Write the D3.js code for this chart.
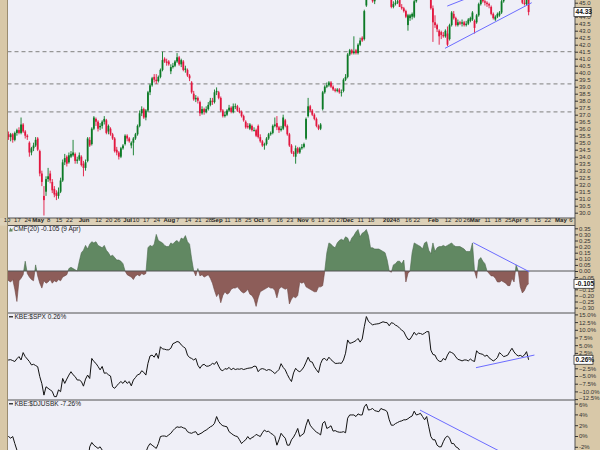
<!DOCTYPE html>
<html><head><meta charset="utf-8">
<script src="https://cdn.jsdelivr.net/npm/d3@7"></script>
<style>
body{margin:0;background:#d8c8a8;}
svg{display:block;}
text{font-family:"Liberation Sans",Arial,sans-serif;}
</style>
</head><body>
<script>
// ---------- DATA (trading-day index 0 = 10 Apr 2023 ... 251 = 9 Apr 2024) ----------
const opens=[35.5,35.6,35.4,35.6,35.2,35.7,35.9,35.7,36.3,35.8,
35.5,35.0,34.3,34.6,34.8,35.3,34.4,32.8,31.2,31.5,
32.4,32.8,32.2,31.7,31.4,31.2,31.5,32.3,33.6,34.0,
33.6,34.0,34.1,34.2,33.7,33.8,34.0,33.5,33.2,33.7,
35.2,34.9,36.0,36.7,36.5,36.1,36.2,36.5,36.6,35.8,
36.0,35.6,35.3,34.5,34.3,34.0,34.6,34.9,35.5,35.3,
34.8,35.0,35.3,35.6,36.2,37.1,37.4,36.8,37.3,38.6,
39.1,39.7,39.5,39.4,39.7,40.2,41.0,40.8,40.8,40.1,
40.4,40.5,40.8,41.1,40.6,40.8,40.2,40.2,39.8,39.3,
38.5,38.1,38.2,37.9,37.1,37.4,37.2,37.4,37.7,38.0,
37.9,38.6,38.6,38.2,37.3,36.9,37.0,37.3,37.5,37.2,
37.6,37.6,37.3,37.2,36.9,36.5,36.2,36.0,36.2,35.9,
35.9,36.2,35.4,35.1,34.8,34.9,35.3,35.6,35.7,36.2,
36.4,36.1,35.9,36.0,36.6,36.2,35.6,34.8,34.3,34.0,
34.6,34.3,34.6,34.7,35.3,36.9,37.6,37.3,37.0,36.7,
36.2,36.0,37.4,38.6,39.0,39.1,39.3,39.0,38.8,38.7,
38.8,38.6,38.7,39.5,39.7,41.3,41.6,41.4,41.6,41.4,
42.0,42.5,42.4,44.8,45.6,46.2,45.8,45.1,45.3,45.8,
46.3,46.5,46.0,45.9,45.6,45.3,44.7,44.9,45.0,45.3,
44.7,44.6,44.4,43.4,43.9,44.0,44.0,45.1,45.4,45.8,
46.0,45.8,46.2,46.0,45.4,44.6,43.6,43.4,43.0,42.9,
42.7,42.6,42.8,42.4,43.4,44.2,43.9,43.4,43.6,43.5,
43.6,43.4,43.5,43.7,43.8,43.7,43.6,44.1,44.9,45.2,
45.1,45.0,44.9,44.7,44.2,43.8,44.0,44.1,44.3,45.1,
45.6,45.9,46.1,46.4,46.2,46.6,46.3,45.9,45.6,45.0,
44.9,45.4];
const highs=[35.8,35.8,35.7,35.7,35.8,36.0,36.1,36.8,36.4,35.9,
35.6,35.1,34.7,35.0,35.4,35.4,34.5,33.0,31.9,32.6,
33.2,33.0,32.4,31.9,31.6,31.8,32.5,33.8,34.2,34.1,
34.3,34.4,35.2,34.3,34.0,34.3,34.1,33.7,33.8,35.4,
35.4,36.1,36.9,36.8,36.6,36.4,36.6,36.9,36.7,36.3,
36.1,35.7,35.4,34.7,34.4,34.7,34.9,35.6,35.6,35.4,
35.1,35.4,35.7,36.3,37.3,37.6,37.5,37.4,38.7,39.2,
39.7,39.9,39.9,39.8,40.3,41.5,41.1,41.0,40.9,40.6,
40.7,40.9,41.4,41.2,41.0,40.9,40.5,40.3,39.9,39.4,
38.7,38.4,38.3,38.0,37.6,37.5,37.6,37.9,38.2,38.2,
38.8,38.95,38.7,38.3,37.4,37.2,37.4,37.7,37.6,37.8,
37.8,37.7,37.5,37.3,37.0,36.6,36.4,36.4,36.3,36.1,
36.0,36.3,35.6,35.2,35.0,35.4,35.7,35.8,36.3,36.8,
36.9,36.2,36.2,37.0,36.7,36.3,35.7,34.9,34.4,34.8,
34.7,34.7,34.9,35.0,36.8,38.2,37.7,37.4,37.1,36.8,
36.3,36.4,38.7,39.1,39.3,39.4,39.4,39.1,38.9,38.9,
38.9,38.8,39.6,39.9,41.4,41.7,41.7,42.6,41.7,42.1,
42.5,42.6,44.5,45.9,46.4,46.4,45.9,45.5,46.0,46.5,
46.7,46.6,46.2,46.0,45.8,45.4,45.1,45.3,45.4,45.4,
44.9,44.7,44.5,44.2,44.2,44.3,45.3,45.6,46.0,46.2,
46.1,46.4,46.3,46.1,45.5,44.8,44.1,43.5,43.1,43.0,
42.9,43.1,43.3,43.5,44.4,44.4,44.0,43.8,43.7,43.8,
43.7,43.7,43.9,44.0,44.4,43.8,44.2,45.0,45.4,45.3,
45.2,45.1,45.0,44.8,44.3,44.1,44.3,44.4,45.2,45.8,
46.0,46.2,46.6,46.5,46.8,46.7,46.4,46.0,45.7,45.3,
45.4,45.5];
const lows=[35.2,35.2,35.1,35.0,35.1,35.5,35.6,35.6,35.7,35.3,
35.2,34.0,34.1,34.4,34.7,34.4,32.6,31.9,29.8,31.2,
32.2,32.1,31.4,31.1,30.9,31.0,31.4,32.2,33.4,33.3,
33.5,33.9,34.0,33.5,33.5,33.7,33.3,32.6,33.0,33.6,
34.7,34.8,35.9,36.2,35.8,35.9,36.0,36.3,35.6,35.6,
35.5,35.2,34.3,34.1,33.8,33.9,34.5,34.8,35.1,35.0,
34.6,34.1,35.2,35.5,36.1,36.9,36.7,36.6,37.2,38.4,
39.0,39.3,39.2,39.3,39.6,40.1,40.7,40.5,40.5,39.9,
40.3,40.4,40.7,40.5,40.4,40.1,40.0,39.7,39.4,38.5,
38.0,37.9,37.8,36.9,37.0,37.0,37.1,37.3,37.6,37.7,
37.8,38.4,38.1,37.2,36.8,36.8,36.9,37.2,37.1,37.1,
37.4,37.2,37.1,36.8,36.5,36.0,36.0,35.9,35.8,35.8,
35.4,35.3,35.0,34.7,34.5,34.8,35.2,35.5,35.6,36.1,
35.9,35.7,35.8,35.9,36.1,35.5,34.7,34.2,34.0,33.5,
34.2,34.2,34.5,34.6,35.2,36.8,37.2,36.9,36.6,36.1,
35.9,35.9,37.3,38.5,38.9,39.0,38.9,38.7,38.6,38.6,
38.5,38.3,38.6,39.4,39.6,41.2,41.3,41.3,41.3,41.3,
41.9,42.2,42.3,44.7,45.5,45.8,45.0,44.9,45.2,45.7,
46.2,45.9,45.8,45.5,45.3,44.6,44.6,44.8,44.9,44.7,
44.5,44.3,43.9,43.0,43.7,43.8,43.9,45.0,45.3,45.6,
45.6,45.7,45.8,45.4,44.5,42.2,43.2,42.9,42.0,42.4,
42.5,42.5,41.9,42.3,43.3,43.8,43.3,43.3,43.4,43.3,
43.3,43.3,43.4,43.6,43.7,42.8,43.5,44.0,44.8,45.0,
44.8,44.7,44.6,44.1,43.8,43.7,43.9,44.0,44.2,45.0,
45.5,45.8,46.0,46.0,46.1,46.1,45.7,45.5,44.9,44.8,
44.8,44.1];
const closes=[35.6,35.4,35.6,35.2,35.7,35.9,35.7,36.3,35.8,35.5,
35.4,34.3,34.6,34.8,35.2,34.5,32.8,32.2,30.9,32.4,
32.6,32.3,31.6,31.3,31.2,31.5,32.3,33.6,33.9,33.5,
34.1,34.2,34.3,33.7,33.8,34.1,33.4,33.2,33.6,35.3,
34.8,36.0,36.8,36.5,36.0,36.2,36.5,36.7,35.7,36.2,
35.6,35.3,34.4,34.3,34.0,34.6,34.8,35.5,35.3,35.1,
35.0,35.3,35.6,36.2,37.1,37.4,36.8,37.3,38.6,39.1,
39.6,39.5,39.4,39.7,40.2,40.9,40.8,40.7,40.6,40.4,
40.5,40.8,41.1,40.6,40.9,40.2,40.3,39.8,39.6,38.6,
38.1,38.2,38.0,37.1,37.4,37.2,37.4,37.7,38.0,37.9,
38.6,38.7,38.2,37.3,36.9,37.0,37.3,37.5,37.2,37.6,
37.6,37.3,37.2,36.9,36.6,36.1,36.1,36.3,35.9,35.9,
35.5,35.4,35.1,34.8,34.9,35.3,35.6,35.7,36.2,36.3,
36.1,35.9,36.0,36.8,36.2,35.6,34.8,34.3,34.2,34.6,
34.3,34.6,34.7,34.9,36.7,37.6,37.3,37.0,36.7,36.2,
36.0,36.3,38.6,39.0,39.1,39.3,39.0,38.8,38.7,38.8,
38.6,38.6,39.5,39.7,41.3,41.6,41.4,41.5,41.4,42.0,
42.3,42.3,44.4,45.6,46.2,46.0,45.1,45.3,45.8,46.3,
46.5,46.0,45.9,45.6,45.4,44.7,44.9,45.0,45.1,44.7,
44.6,44.4,44.0,44.1,44.1,44.2,45.1,45.4,45.8,46.0,
45.8,46.2,46.0,45.7,44.6,43.6,43.4,43.1,42.6,42.7,
42.6,43.0,42.0,43.4,44.3,43.9,43.4,43.6,43.5,43.6,
43.4,43.5,43.8,43.9,44.3,43.2,44.1,44.9,45.2,45.1,
45.0,44.9,44.8,44.2,43.9,44.0,44.2,44.3,45.1,45.6,
45.9,46.1,46.4,46.2,46.6,46.3,45.9,45.6,45.0,44.9,
45.3,44.33];
const cmf=[-0.06,-0.08,-0.09,-0.07,-0.15,-0.25,-0.08,-0.06,-0.03,0.08,
-0.02,-0.05,-0.07,-0.08,0.05,-0.04,-0.10,-0.14,-0.08,-0.10,
-0.09,-0.07,-0.10,-0.08,-0.09,-0.07,-0.08,-0.05,-0.04,-0.03,
0.02,0.03,0.02,0.01,0.00,0.08,0.15,0.17,0.21,0.18,
0.22,0.24,0.23,0.24,0.21,0.20,0.19,0.21,0.17,0.15,
0.12,0.13,0.11,0.09,0.09,0.08,0.06,0.00,-0.03,-0.04,
-0.05,-0.07,-0.04,-0.03,-0.04,-0.02,-0.03,-0.02,0.19,0.21,
0.20,0.22,0.30,0.25,0.24,0.23,0.21,0.20,0.20,0.23,
0.22,0.24,0.25,0.23,0.27,0.26,0.29,0.24,0.22,0.10,
0.00,-0.04,0.02,-0.04,-0.03,-0.05,-0.04,-0.03,-0.06,-0.10,
-0.16,-0.21,-0.18,-0.26,-0.20,-0.17,-0.19,-0.18,-0.15,-0.14,
-0.14,-0.13,-0.15,-0.17,-0.18,-0.17,-0.15,-0.19,-0.20,-0.23,
-0.29,-0.22,-0.17,-0.16,-0.15,-0.14,-0.13,-0.14,-0.14,-0.16,
-0.22,-0.15,-0.13,-0.14,-0.15,-0.14,-0.27,-0.23,-0.21,-0.22,
-0.20,-0.09,-0.10,-0.09,-0.13,-0.14,-0.15,-0.16,-0.17,-0.17,
-0.13,-0.13,-0.12,0.00,0.15,0.23,0.22,0.20,0.19,0.23,
0.25,0.26,0.25,0.28,0.27,0.23,0.27,0.29,0.32,0.34,
0.28,0.31,0.32,0.34,0.29,0.19,0.19,0.18,0.18,0.18,
0.17,0.16,0.15,0.09,0.00,-0.01,0.05,0.06,0.08,0.08,
0.06,0.09,-0.09,-0.02,0.00,0.15,0.23,0.22,0.21,0.20,
0.18,0.23,0.24,0.17,0.14,0.23,0.16,0.19,0.20,0.20,
0.21,0.20,0.21,0.22,0.23,0.21,0.20,0.20,0.20,0.19,
0.18,0.16,0.16,0.16,0.23,0.00,-0.06,0.09,0.11,0.08,
0.06,0.00,-0.02,-0.04,-0.04,-0.06,-0.09,-0.09,-0.08,-0.09,
-0.10,-0.12,-0.12,-0.06,-0.09,0.05,0.00,-0.13,-0.18,-0.16,
-0.12,-0.105];
const relSpx=[0.2,0.2,0.3,0.0,-0.3,0.6,1.3,0.2,2.6,1.3,
0.5,-0.3,-1.4,-1.2,-1.6,-2.0,-5.2,-7.5,-11.2,-8.5,
-9.0,-9.5,-10.0,-11.7,-11.7,-9.5,-10.1,-5.8,-7.4,-6.0,
-4.7,-3.6,-4.6,-5.2,-6.3,-6.3,-6.8,-8.3,-6.0,-4.7,
-5.8,0.7,-0.3,-0.9,-1.9,-3.0,-1.9,-4.1,-4.0,-4.6,
-5.0,-8.5,-9.0,-8.2,-7.4,-6.8,-7.4,-6.5,-7.4,-6.8,
-8.2,-6.3,-5.5,-4.6,-4.4,-3.3,-3.8,-4.7,-0.9,1.5,
1.8,1.1,2.4,0.7,4.5,3.8,3.7,3.5,3.5,4.0,
5.5,5.8,6.2,6.0,5.1,4.5,4.0,1.8,1.0,0.7,
0.2,0.7,-1.5,-2.5,-1.5,-1.2,-1.8,-1.8,-1.5,-0.9,
-1.2,-0.3,-1.8,-3.0,-3.3,-2.6,-2.8,-2.2,-3.0,-2.5,
-2.9,-2.7,-2.8,-2.6,-2.9,-2.7,-2.5,-2.4,-2.3,-1.8,
-1.9,-3.6,-2.8,-2.6,-2.8,-3.2,-2.9,-3.1,-3.6,-4.2,
-3.6,-2.9,-1.0,-2.2,-3.0,-4.5,-5.8,-6.8,-4.0,-2.5,
-3.3,-3.6,-3.0,-2.0,-0.5,1.1,-0.3,-0.5,-2.0,-3.0,
-3.9,-1.0,0.5,0.7,0.0,1.1,0.3,-0.3,-0.9,-0.9,
-0.8,-0.9,0.2,2.4,6.7,5.6,5.8,6.1,6.5,7.2,
6.0,7.0,11.0,14.3,12.8,12.1,11.6,11.8,11.9,12.0,
12.3,12.6,12.4,12.3,11.3,12.3,12.1,11.5,11.2,10.5,
9.9,9.4,8.0,6.9,6.9,8.0,9.2,8.3,8.9,8.8,
8.5,8.9,9.4,9.4,3.4,2.0,1.8,0.4,-0.2,-0.3,
0.7,0.2,1.8,2.9,2.6,2.2,1.2,0.4,0.2,-0.1,
0.2,0.2,-0.1,0.5,0.0,-0.3,3.2,2.4,2.2,2.0,
1.4,1.8,0.9,0.4,-0.1,0.3,1.0,2.6,2.0,1.3,
1.5,1.8,3.0,4.0,2.8,2.0,1.5,1.7,1.3,1.8,
2.9,0.26];
const relBank=[-0.1,-0.1,-0.4,-0.1,-1.4,-2.6,-3.4,-3.2,-2.9,-3.5,
-4.0,-4.5,-5.5,-5.2,-5.6,-6.0,-8.5,-10.0,-13.0,-11.0,
-11.5,-12.0,-12.5,-13.5,-13.5,-11.5,-12.0,-8.5,-9.5,-8.5,
-7.5,-6.5,-7.0,-7.5,-8.0,-8.0,-8.5,-9.5,-7.5,-5.0,
-2.0,-1.2,-1.7,-2.0,-2.3,-2.0,-2.6,-3.5,-3.8,-4.2,
-4.5,-6.5,-7.0,-6.5,-6.0,-5.5,-6.0,-5.5,-6.0,-5.5,
-6.5,-5.0,-4.5,-4.0,-3.8,-3.2,-3.5,-3.0,-2.0,-1.4,
-1.7,-2.0,-2.3,-1.4,-0.1,0.0,0.0,-0.1,0.2,0.5,
1.0,1.4,1.7,1.6,1.7,1.5,1.4,0.8,0.6,0.5,
0.7,0.8,0.2,0.4,0.6,0.9,1.1,1.4,1.7,1.9,
2.35,3.6,2.7,2.2,1.9,1.8,1.7,0.8,0.5,0.2,
0.0,-0.1,-0.7,-1.4,-1.0,-0.7,-0.1,-0.6,-0.3,-0.1,
0.3,0.1,-0.1,0.6,1.1,0.8,0.9,0.5,0.3,-0.1,
-1.7,-0.7,0.5,0.0,-0.4,-1.7,-1.7,-0.7,-0.2,0.5,
1.4,-0.1,0.2,0.5,2.0,3.1,2.0,1.5,1.1,0.7,
0.5,0.2,2.35,2.7,1.4,1.6,1.9,0.9,1.0,0.8,
0.7,0.7,0.8,0.6,3.3,3.9,3.9,3.9,3.6,4.1,
3.9,3.9,5.4,5.9,4.8,4.9,5.1,4.7,4.6,4.5,
5.1,4.9,4.8,4.5,3.0,2.0,2.0,2.3,2.5,2.7,
2.8,3.0,3.0,3.2,3.5,3.7,4.6,3.9,4.0,4.2,
3.6,3.0,3.6,1.7,-0.1,-0.7,-0.7,-1.7,-2.0,-2.0,
-1.05,-0.3,0.0,-0.4,-1.4,-1.4,-2.0,-2.2,-2.7,-3.0,
-3.2,-3.0,-3.4,-3.2,-3.5,-4.0,-2.9,-3.2,-3.6,-3.8,
-4.2,-4.0,-4.5,-5.0,-5.4,-5.2,-4.8,-4.0,-4.5,-5.0,
-5.2,-5.0,-4.5,-4.0,-4.8,-5.5,-6.0,-5.8,-6.2,-6.0,
-5.4,-7.26];

// horizontal dashed support levels
const priceLevels=[41.5,39.2,37.2];
// trend lines: [startIndex, endIndex] and [startValue, endValue]
const trendPriceLowIdx=[210.8,252.5], trendPriceLowVal=[41.74,45.0];
const trendPriceHighIdx=[211.9,222], trendPriceHighVal=[44.76,45.35];
const trendCmfIdx=[224.4,251.3], trendCmfVal=[0.232,-0.006];
const trendSpxIdx=[225.7,253.8], trendSpxVal=[-2.3,1.8];
const trendBankIdx=[198.8,240], trendBankVal=[4.8,-3.4];

// date axis
const dateTickIdx=[0,5,10,15,20,25,30,37,44,49,53,58,62,67,72,78,82,87,92,97,101,106,111,116,121,126,131,136,143,146,151,156,160,164,170,175,184,188,193,197,205,212,217,221,225,231,236,241,245,250,255,260,267,270];
const dateTickLbl=["10","17","24","May","8","15","22","Jun","12","20","26","Jul","10","17","24","Aug","7","14","21","28","Sep","11","18","25","Oct","9","16","23","Nov","6","13","20","27","Dec","11","18","2024","8","16","22","Feb","12","20","26","Mar","11","18","25","Apr","8","15","22","May","6"];
const boldLbl=["May","Jun","Jul","Aug","Sep","Oct","Nov","Dec","2024","Feb","Mar","Apr"];

// value-axis ticks
const priceTicks=[45.0,44.0,43.5,43.0,42.5,42.0,41.5,41.0,40.5,40.0,39.5,39.0,38.5,38.0,37.5,37.0,36.5,36.0,35.5,35.0,34.5,34.0,33.5,33.0,32.5,32.0,31.5,31.0,30.5,30.0];
const cmfTicks=[0.35,0.30,0.25,0.20,0.15,0.10,0.05,0.00,-0.05,-0.15,-0.20,-0.25,-0.30];
const spxTicks=[15,12.5,10,7.5,5,2.5,-2.5,-5,-7.5,-10,-12.5];
const bankTicks=[6,4,2,0,-2];

const lastPriceLbl="44.33", lastCmfLbl="-0.105", lastSpxLbl="0.26%";
const cmfTitle="CMF(20) -0.105 (9 Apr)";
const spxTitle="KBE:$SPX 0.26%";
const bankTitle="KBE:$DJUSBK -7.26%";

// ---------- LAYOUT ----------
const W=600,H=450, PL=7.5, PR=575;
const TAN="#d8c8a8", BG="#efeff7", GRID="#505050";
const GREEN="#0c7a26", RED="#e2173f", BLUE="#6b6bff";
const P={main:[0,218], cmf:[225.5,313], spx:[313,400], bank:[400,452]};

const svg=d3.select("body").append("svg").attr("width",W).attr("height",H);
svg.append("rect").attr("width",W).attr("height",H).attr("fill",TAN);

const x=d3.scaleLinear().domain([-3.125,273.3]).range([0,575]);
const yP=d3.scaleLinear().domain([30,45]).range([212.7,2.7]);
const yC=d3.scaleLinear().domain([-0.3,0.35]).range([307.6,228.3]);
const yS=d3.scaleLinear().domain([-12.5,15]).range([399.1,314.4]);
const yB=d3.scaleLinear().domain([-2,6]).range([446.8,403.6]);

const defs=svg.append("defs");
Object.entries(P).forEach(([k,[t,b]])=>{
  defs.append("clipPath").attr("id","c_"+k).append("rect")
    .attr("x",PL).attr("y",t).attr("width",PR-PL).attr("height",b-t);
  svg.append("rect").attr("x",PL).attr("y",t).attr("width",PR-PL).attr("height",b-t).attr("fill",BG);
});
defs.append("clipPath").attr("id","c_pos").append("rect").attr("x",PL).attr("y",P.cmf[0]).attr("width",PR-PL).attr("height",yC(0)-P.cmf[0]);
defs.append("clipPath").attr("id","c_neg").append("rect").attr("x",PL).attr("y",yC(0)).attr("width",PR-PL).attr("height",P.cmf[1]-yC(0));

// ---------- MAIN PRICE PANEL ----------
const gm=svg.append("g").attr("clip-path","url(#c_main)");
gm.selectAll("line.lvl").data(priceLevels).enter().append("line")
  .attr("x1",PL).attr("x2",PR).attr("y1",d=>yP(d)).attr("y2",d=>yP(d))
  .attr("stroke","#969696").attr("stroke-width",1.3).attr("stroke-dasharray","4,3");
const idx=d3.range(closes.length);
const col=i=>closes[i]>=opens[i]?GREEN:RED;
gm.selectAll("line.wick").data(idx).enter().append("line")
  .attr("x1",i=>x(i)).attr("x2",i=>x(i)).attr("y1",i=>yP(highs[i])).attr("y2",i=>yP(lows[i]))
  .attr("stroke",col).attr("stroke-width",0.9);
gm.selectAll("rect.body").data(idx).enter().append("rect")
  .attr("x",i=>x(i)-0.9).attr("width",1.8)
  .attr("y",i=>yP(Math.max(opens[i],closes[i])))
  .attr("height",i=>Math.max(0.8,Math.abs(yP(opens[i])-yP(closes[i]))))
  .attr("fill",col);
const tline=(g,xs,ys,ysc)=>g.append("line").attr("x1",x(xs[0])).attr("x2",x(xs[1]))
  .attr("y1",ysc(ys[0])).attr("y2",ysc(ys[1])).attr("stroke",BLUE).attr("stroke-width",1);
tline(gm,trendPriceLowIdx,trendPriceLowVal,yP);
tline(gm,trendPriceHighIdx,trendPriceHighVal,yP);

// ---------- CMF PANEL ----------
const gc=svg.append("g").attr("clip-path","url(#c_cmf)");
const ar=d3.area().x((d,i)=>x(i)).y0(yC(0)).y1(d=>yC(d));
const ln=(ys)=>d3.line().x((d,i)=>x(i)).y(d=>ys(d));
gc.append("path").datum(cmf).attr("d",ar).attr("fill","#618862").attr("clip-path","url(#c_pos)");
gc.append("path").datum(cmf).attr("d",ar).attr("fill","#8d5d59").attr("clip-path","url(#c_neg)");
gc.append("path").datum(cmf).attr("d",ln(yC)).attr("fill","none").attr("stroke","#4a6a4c").attr("stroke-width",0.6).attr("clip-path","url(#c_pos)");
gc.append("path").datum(cmf).attr("d",ln(yC)).attr("fill","none").attr("stroke","#6e4643").attr("stroke-width",0.6).attr("clip-path","url(#c_neg)");
gc.append("line").attr("x1",PL).attr("x2",PR).attr("y1",yC(0)).attr("y2",yC(0)).attr("stroke","#555").attr("stroke-width",1);
tline(gc,trendCmfIdx,trendCmfVal,yC);

// ---------- RELATIVE PANELS ----------
const gs=svg.append("g").attr("clip-path","url(#c_spx)");
gs.append("path").datum(relSpx).attr("d",ln(yS)).attr("fill","none").attr("stroke","#111").attr("stroke-width",1);
tline(gs,trendSpxIdx,trendSpxVal,yS);
const gb=svg.append("g").attr("clip-path","url(#c_bank)");
gb.append("path").datum(relBank).attr("d",ln(yB)).attr("fill","none").attr("stroke","#111").attr("stroke-width",1);
tline(gb,trendBankIdx,trendBankVal,yB);

// ---------- DATE AXIS STRIP ----------
svg.append("rect").attr("x",0).attr("y",218).attr("width",PR).attr("height",7.5).attr("fill","#ddd1b8");
const ax=svg.append("g").attr("transform","translate(0,218)")
  .call(d3.axisBottom(x).tickValues(dateTickIdx).tickFormat((d,k)=>dateTickLbl[k]).tickSize(0).tickPadding(0));
ax.select(".domain").remove();
ax.selectAll("text").attr("font-size",6).attr("fill","#222").attr("dy","0.66em").attr("y",0.4)
  .attr("font-family","Liberation Sans, Arial, sans-serif")
  .attr("dx",(d,k)=>k>0&&dateTickIdx[k]-dateTickIdx[k-1]<4?2.2:(k<dateTickIdx.length-1&&dateTickIdx[k+1]-dateTickIdx[k]<4?-1.5:0))
  .attr("font-weight",(d,k)=>boldLbl.includes(dateTickLbl[k])?"bold":"normal");

// ---------- BORDERS ----------
[P.main[1],P.cmf[0],P.spx[0],P.bank[0]].forEach(y=>svg.append("line").attr("x1",PL).attr("x2",PR).attr("y1",y).attr("y2",y).attr("stroke",GRID).attr("stroke-width",1));
svg.append("line").attr("x1",PR).attr("x2",PR).attr("y1",0).attr("y2",H).attr("stroke",GRID);
svg.append("line").attr("x1",PL).attr("x2",PL).attr("y1",0).attr("y2",H).attr("stroke","#9a8c70");

// ---------- RIGHT AXES ----------
function rAxis(sc,ticks,fmt){
  const g=svg.append("g").attr("transform",`translate(${PR},0)`)
    .call(d3.axisRight(sc).tickValues(ticks).tickFormat(fmt).tickSize(3).tickPadding(1));
  g.select(".domain").remove();
  g.selectAll("line").attr("stroke","#333");
  g.selectAll("text").attr("font-size",6).attr("fill","#333").attr("font-family","Liberation Sans, Arial, sans-serif");
  return g;
}
rAxis(yP,priceTicks,d3.format(".1f"));
rAxis(yC,cmfTicks,d3.format(".2f"));
rAxis(yS,spxTicks,d=>d3.format(".1f")(d)+"%").selectAll("text").attr("dy",(d)=>d===-12.5?"0.1em":"0.32em");
rAxis(yB,bankTicks,d=>d+"%").selectAll("text").attr("dy",(d)=>d===6?"0.55em":"0.32em");

function valBox(yv,txt,w){
  svg.append("rect").attr("x",PR-1).attr("y",yv-4.5).attr("width",w).attr("height",9)
    .attr("fill","#fff").attr("stroke","#333").attr("stroke-width",0.8);
  svg.append("text").attr("x",PR+0.5).attr("y",yv+2.4).attr("font-size",6.6).attr("font-weight","bold").attr("fill","#111").text(txt);
}
valBox(yP(closes[closes.length-1]),lastPriceLbl,17);
valBox(yC(cmf[cmf.length-1]),lastCmfLbl,20);
valBox(yS(relSpx[relSpx.length-1]),lastSpxLbl,19);

// ---------- PANEL TITLES ----------
svg.append("path").attr("d","M9,231.5 L10.3,227.5 L11.5,229.5 L12.5,228 L12.5,231.5 Z").attr("fill","#618862");
svg.append("text").attr("x",13.5).attr("y",231.3).attr("font-size",6.5).attr("fill","#222").text(cmfTitle);
svg.append("line").attr("x1",9).attr("x2",13).attr("y1",316.8).attr("y2",316.8).attr("stroke","#111").attr("stroke-width",1.2);
svg.append("text").attr("x",14.5).attr("y",319.1).attr("font-size",6.5).attr("fill","#222").text(spxTitle);
svg.append("line").attr("x1",9).attr("x2",13).attr("y1",403.8).attr("y2",403.8).attr("stroke","#111").attr("stroke-width",1.2);
svg.append("text").attr("x",14.5).attr("y",406.1).attr("font-size",6.5).attr("fill","#222").text(bankTitle);
</script>
</body></html>
